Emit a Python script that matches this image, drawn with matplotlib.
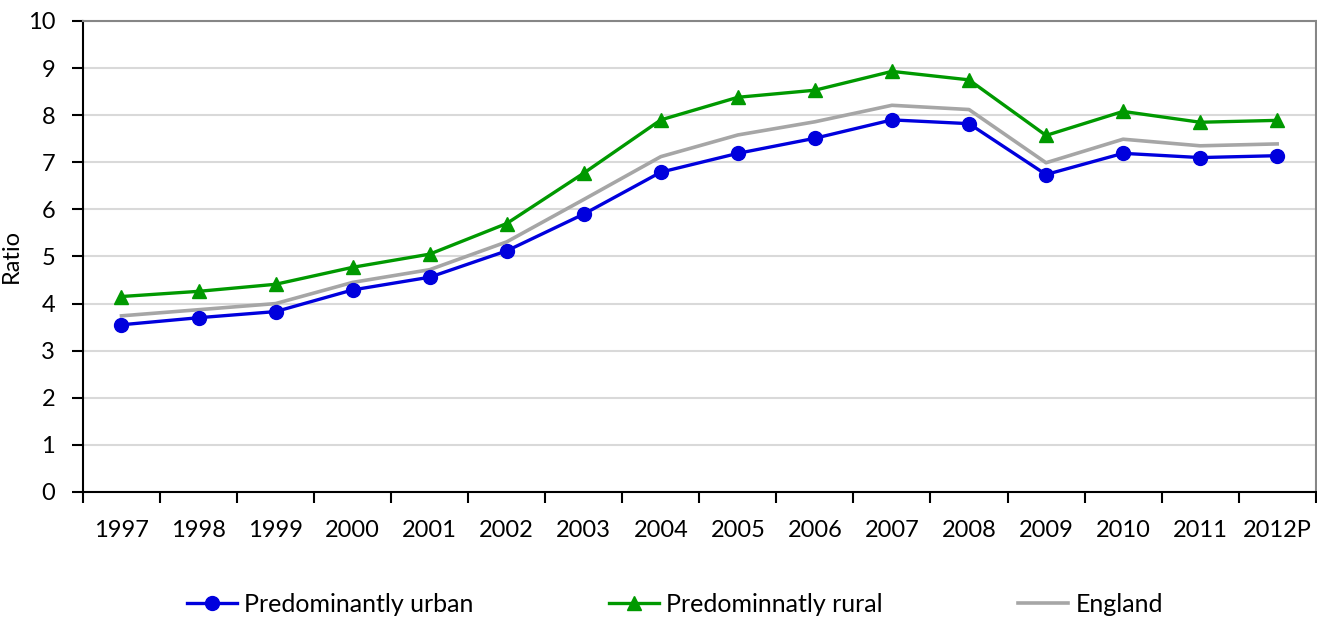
import numpy as np
import matplotlib
matplotlib.use("Agg")
import matplotlib.pyplot as plt

plt.rcParams['font.family'] = ['Lato', 'DejaVu Sans']

# Data
years = ['1997', '1998', '1999', '2000', '2001', '2002', '2003', '2004',
         '2005', '2006', '2007', '2008', '2009', '2010', '2011', '2012P']
urban = [3.55, 3.70, 3.83, 4.29, 4.56, 5.12, 5.90, 6.79,
         7.19, 7.51, 7.90, 7.82, 6.74, 7.19, 7.10, 7.14]
rural = [4.15, 4.26, 4.41, 4.77, 5.05, 5.70, 6.77, 7.90,
         8.38, 8.53, 8.93, 8.75, 7.57, 8.08, 7.85, 7.89]
england = [3.74, 3.87, 4.00, 4.45, 4.72, 5.31, 6.21, 7.12,
           7.58, 7.86, 8.21, 8.12, 6.99, 7.49, 7.35, 7.39]

x = np.arange(len(years))

fig = plt.figure(figsize=(13.17, 6.17), dpi=100)
ax = fig.add_axes([0.063, 0.2026, 0.936, 0.7634])

ax.plot(x, urban, color='#0000dd', lw=2.4, marker='o', ms=10,
        label='Predominantly urban', zorder=4)
ax.plot(x, rural, color='#009900', lw=2.4, marker='^', ms=10,
        label='Predominnatly rural', zorder=3)
ax.plot(x, england, color='#a6a6a6', lw=2.6,
        label='England', zorder=2)

ax.set_xlim(-0.5, len(years) - 0.5)
ax.set_ylim(0, 10)
ax.set_yticks(range(0, 11))
ax.yaxis.grid(True, color='#d9d9d9', lw=1.5)
ax.set_axisbelow(True)

ax.set_xticks(x)
ax.set_xticklabels(years, fontsize=17)
ax.tick_params(axis='x', which='major', length=0, pad=20)
ax.set_xticks(np.arange(-0.5, len(years)), minor=True)
ax.tick_params(axis='x', which='minor', length=8, width=1.5, direction='out')
ax.tick_params(axis='y', labelsize=17, length=8, width=1.5, pad=12)

for s in ['top', 'right']:
    ax.spines[s].set_color('#868686')
    ax.spines[s].set_linewidth(1.5)
for s in ['left', 'bottom']:
    ax.spines[s].set_linewidth(1.5)

ax.set_ylabel('Ratio', fontsize=17, labelpad=4)

fig.legend(loc='center', bbox_to_anchor=(0.5125, 0.02), ncol=3, frameon=False,
           fontsize=18, handlelength=2.0, columnspacing=5.4, handletextpad=0.3)

fig.savefig('out.png', dpi=100)
